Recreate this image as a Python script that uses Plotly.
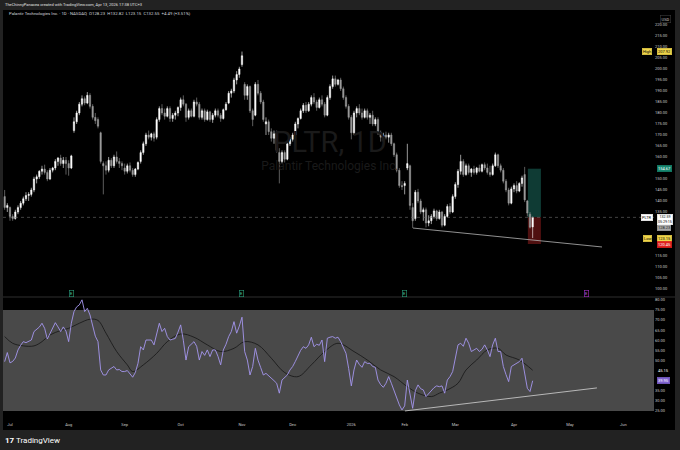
import pandas as pd
import plotly.graph_objects as go

W, H = 680, 450

# trading calendar (NASDAQ holidays in the window)
holidays = ['2025-07-04', '2025-09-01', '2025-11-27', '2025-12-25', '2026-01-01',
            '2026-01-19', '2026-02-16', '2026-04-03', '2026-05-25']
cal = pd.bdate_range('2025-06-27', '2026-06-30', freq='C', holidays=holidays)
month_names = ['Jul', 'Aug', 'Sep', 'Oct', 'Nov', 'Dec', '2026', 'Feb', 'Mar', 'Apr', 'May', 'Jun']

# daily OHLC, Jun 27 2025 -> Apr 13 2026
opens = [142, 137,
         137, 133, 132, 135, 137, 139, 141, 142.5, 143, 145, 150, 151, 153.5, 154.5, 153, 150, 154, 155, 158, 159.5, 157, 158.5,
         157, 155, 172, 176, 180, 184, 186.5, 184.5, 188, 183, 178, 177, 171, 157, 156, 154, 158.5, 156, 160, 158, 157,
         155, 153.5, 156, 154, 152, 154.5, 158, 162, 166, 170, 169, 170.5, 169, 177, 182, 180, 178.5, 182, 177.5, 179, 180,
         182.5, 186, 184, 178, 181, 178.5, 185, 184, 178, 181, 177, 180.5, 177, 179, 181, 179, 177.5, 181.5, 184.5, 189, 190, 195, 197.5,
         202, 193, 188, 192, 181, 179, 193, 189, 185, 175, 176, 171.5, 168.5, 171, 162, 158, 162, 159, 166,
         168, 170, 175, 177.5, 181, 183.5, 181, 184, 187, 185, 182.5, 186, 184, 179, 187, 192, 195.5, 193, 195, 191, 187, 183,
         178, 171, 180, 182, 180, 178, 181, 178, 179, 175, 177, 171, 169, 170, 169, 170, 166, 161, 154, 147,
         147, 155, 156, 137, 132, 144, 140, 135, 136, 130, 131, 133, 135.5, 132, 135, 129, 133, 137.5, 135,
         142, 147.5, 153.5, 158, 152, 156, 153, 154.5, 153, 155, 153.5, 156.5, 155, 153, 152, 156, 161, 156, 154, 149, 145, 139,
         145.5, 147, 144.5, 148, 152, 140, 134, 128.23]
highs = [145, 139,
         137.5, 134, 136, 138, 140, 142, 144, 144, 146, 151, 152, 154, 156, 156.5, 154, 155, 155.5, 159, 160, 161, 160, 160,
         158.5, 161, 178, 181, 185, 188, 187.5, 189.5, 189, 184, 180, 178, 171.5, 158, 158, 160, 159.5, 161, 162.5, 159.5, 158,
         157, 157, 157.5, 155, 155, 158, 163, 167, 171, 172, 171, 171.5, 178, 183, 184, 182, 183, 183, 180, 181, 183,
         187, 188, 184.5, 182, 182, 186, 187, 185, 182, 182, 181.5, 181, 180, 182, 182, 180, 182, 185, 190, 191, 196, 199, 201,
         207.92, 194, 193, 192.5, 182, 194, 195, 190, 186, 178, 177, 173, 172, 172, 164, 163, 163, 167, 169,
         171, 176, 178, 182, 184.5, 185, 185, 188, 189, 186, 187, 188, 185, 188, 193, 197, 197, 195.5, 196, 192, 188, 184,
         179, 181, 183, 184, 182, 182, 182, 180, 181, 178, 178, 172, 171, 171.5, 171, 171, 166.5, 162, 155, 149,
         149, 166, 156.5, 139, 145, 145.5, 141, 137, 137, 133.5, 134, 136.5, 136, 136, 135.5, 134, 138.5, 139, 143,
         148.5, 154.5, 161, 159, 157, 157, 155, 156, 155.5, 156.5, 157, 157.5, 157, 156, 157, 162, 161.5, 157, 155, 150, 146,
         146.5, 148, 149, 148.5, 151.5, 155.5, 140.5, 135, 132.82]
lows = [136, 135,
        131, 131, 131.5, 134, 136, 138, 140, 140, 142, 144, 148, 150, 152, 152, 149, 149.5, 153, 154, 156, 156, 155, 152,
        151.5, 154.5, 171, 175, 179, 183, 183.5, 184, 182, 177, 175, 173, 157, 143, 152, 153, 155, 155, 157, 155, 154,
        152, 152.5, 153, 151, 151, 154, 157, 161, 165, 168, 167.5, 167, 168, 176, 179, 177, 178, 176, 176, 177, 178.5,
        181, 183, 176, 177, 178, 178, 183, 177, 177, 176, 176.5, 176, 175.5, 178, 178, 176, 177, 181, 184, 187, 189, 193, 196,
        201, 186, 186, 180, 174, 178.5, 188, 184, 176, 170, 170, 167, 166, 162, 148, 157, 157.5, 158.5, 165,
        167, 169.5, 173, 177, 180, 180, 180.5, 183, 184, 181, 182, 183, 178, 178.5, 186, 191, 192, 192.5, 190, 186, 182, 177,
        168, 170, 178, 179, 177, 177.5, 177, 175, 174, 174, 170, 167, 167, 168, 166.5, 165, 160, 153, 146, 145,
        143, 154, 136, 127.7, 131, 139, 134, 131, 128, 128.5, 129.5, 132, 131, 131.5, 128, 128.5, 132.5, 134, 134.5,
        141, 146, 152, 151, 151.5, 152, 151, 152, 152, 153, 153, 154, 152, 151, 151.5, 155.5, 155, 153, 148, 144, 138,
        138.5, 144, 143.5, 144, 146.5, 139.5, 133, 127.5, 123.15]
closes = [137, 138,
          133, 132, 135, 137, 139, 141, 142.5, 143, 145, 150, 151, 153.5, 154.5, 153, 150, 154, 155, 158, 159.5, 157, 158.5, 157,
          155, 160.5, 176, 180, 184, 186.5, 184.5, 188, 183, 178, 176.5, 174, 158, 156, 154, 158.5, 156, 160, 158, 157, 156,
          153.5, 156, 154, 152, 154.5, 157.5, 162, 166, 170, 169, 170.5, 168.5, 177, 182, 180, 178.5, 182, 177.5, 179, 180, 182.5,
          186, 184, 178, 181, 178.5, 185, 184, 178, 181, 177, 180.5, 177, 179, 181, 179, 177.5, 181.5, 184, 189, 190, 195, 197.5, 200,
          206, 188, 192, 181, 177, 193, 189, 185, 177, 176, 171.5, 168.5, 170.5, 163, 158, 162, 159, 166, 168,
          170, 175, 177.5, 181, 183.5, 181, 184, 187, 185, 182.5, 186, 184, 179, 187, 192, 195.5, 193, 195, 191, 187, 183, 178,
          171, 180, 182, 180, 178, 181, 178, 179, 175, 177, 171, 169, 170, 169, 170, 166, 161, 154, 147, 146.5,
          148, 157, 138, 131, 144, 140, 135, 136, 130, 131, 133, 135.5, 132, 135, 129, 133, 137.5, 135, 142,
          147.5, 153.5, 158, 152, 156, 153, 154.5, 153, 155, 153.5, 156.5, 155, 153, 152, 156, 161, 156, 154, 149, 145, 139, 145.5,
          147, 144.5, 148, 150.5, 140.5, 134.5, 128.06, 132.55]

# RSI(14) per bar and its moving average (sampled along the drawn line)
rsi = [49.4, 53.9,
       48.8, 49.5, 51.2, 55.2, 57.5, 59.3, 58.8, 59.3, 60.1, 64.3, 65.5, 66.5, 68.4, 65.9, 60.6, 63.5, 65.9, 68.7, 66.6, 64.3, 66.6, 64.5,
       59.3, 68.4, 74.2, 76.5, 77.5, 80.0, 74.2, 75.8, 72.5, 66.7, 62.0, 59.3, 45.3, 42.8, 42.8, 45.3, 46.0, 47.0, 45.3, 45.5, 44.5,
       44.5, 45.0, 43.6, 41.7, 44.0, 48.6, 56.8, 55.2, 60.1, 60.1, 60.1, 57.7, 63.0, 68.4, 64.3, 65.9, 61.8, 60.1, 60.5, 60.9, 64.0,
       67.6, 60.0, 50.2, 56.8, 58.0, 59.3, 57.0, 50.2, 54.4, 52.5, 55.2, 51.9, 55.2, 55.2, 52.0, 47.8, 55.2, 58.0, 61.8, 64.3, 69.2, 63.5, 67.0,
       71.4, 54.4, 50.2, 42.8, 47.0, 56.0, 50.2, 46.5, 42.8, 43.6, 42.5, 41.2, 40.0, 38.7, 33.8, 40.3, 41.5, 42.8, 45.3,
       47.0, 49.5, 52.7, 55.0, 56.8, 56.0, 57.7, 61.5, 56.8, 58.0, 57.5, 60.1, 49.4, 61.0, 61.5, 61.8, 61.0, 61.5, 59.3, 56.0, 53.5, 46.0,
       37.4, 45.3, 50.2, 48.0, 46.6, 49.4, 48.5, 48.6, 47.0, 46.6, 40.3, 38.0, 36.7, 38.7, 42.0, 38.7, 35.0, 31.3, 28.0, 25.5,
       27.5, 40.3, 33.0, 26.3, 35.0, 37.9, 36.0, 35.4, 32.1, 33.5, 35.4, 36.5, 37.4, 37.0, 37.4, 33.8, 40.3, 42.0, 44.5,
       51.1, 57.7, 58.5, 57.0, 61.0, 58.5, 54.4, 55.0, 56.0, 54.4, 55.5, 57.7, 55.2, 51.9, 57.7, 61.0, 54.4, 54.4, 47.0, 43.0, 39.5, 47.0,
       47.8, 48.5, 49.4, 51.1, 42.8, 36.2, 34.6, 39.95]
ma_idx = [0, 3, 7, 11, 14, 17, 21, 24, 28, 32, 35, 38, 42, 46, 48, 52, 57, 61, 66, 71, 76, 81, 86, 90, 95,
          100, 105, 110, 115, 120, 125, 131, 136, 141, 146, 151, 155, 160, 163, 166, 170, 173, 177, 181, 185, 188, 193, 198]
ma_vals = [61.8, 58.5, 57.2, 57.2, 59.3, 62.6, 64.8, 65.9, 68.4, 70.4, 69.8, 63.5, 54.4, 47.8, 44.5, 47.8, 53.5, 59.3,
           63.1, 61.5, 57.7, 54.4, 56.0, 59.3, 57.7, 51.1, 44.0, 42.0, 47.8, 54.4, 58.5, 54.4, 50.2, 45.3, 42.0, 37.0,
           33.8, 32.1, 33.8, 35.4, 38.7, 45.3, 50.2, 55.2, 56.0, 52.7, 50.2, 45.15]

# chart drawings
price_trend_x = [153.1, 224.0]
price_trend_y = [127.7, 119.1]
rsi_trend_x = [150.1, 222.1]
rsi_trend_y = [25.0, 36.4]
position_x = [196.2, 201.1]
position_levels = [154.67, 132.59, 120.45]   # target, entry, stop
earnings_idx = [25, 89, 150]
next_earnings_idx = 218

# axis labels hidden behind price tags in the original are left out
price_ticks = [v for v in range(100, 221, 5) if v not in (120, 125, 130, 155)]
rsi_ticks = [v for v in range(25, 81, 5) if v not in (40, 45)]

idx = list(range(len(closes)))
month_idx = []
for i in range(1, len(cal)):
    if cal[i].month != cal[i - 1].month:
        month_idx.append(i)


def px(x):
    return x / W


def py(y):
    return 1 - y / H


GREY_TXT = '#c9c9c9'
FONT = 'Roboto'

fig = go.Figure()

# watermark (drawn first so candles sit on top)
fig.add_trace(go.Scatter(x=[122, 122], y=[165.5, 155.5], mode='text',
                         text=['PLTR, 1D', 'Palantir Technologies Inc.'],
                         textfont=dict(size=[29, 12], color='#1a1a1a', family=FONT),
                         hoverinfo='skip', showlegend=False, xaxis='x', yaxis='y'))

fig.add_trace(go.Candlestick(
    x=idx, open=opens, high=highs, low=lows, close=closes,
    increasing=dict(line=dict(color='#ffffff', width=0.6), fillcolor='#ffffff'),
    decreasing=dict(line=dict(color='#9a9a9a', width=0.6), fillcolor='#9a9a9a'),
    whiskerwidth=0, showlegend=False, hoverinfo='skip', xaxis='x', yaxis='y'))

fig.add_trace(go.Scatter(x=price_trend_x, y=price_trend_y, mode='lines',
                         line=dict(color='#b5b5b5', width=0.8),
                         hoverinfo='skip', showlegend=False, xaxis='x', yaxis='y'))

# RSI pane
fig.add_trace(go.Scatter(x=ma_idx, y=ma_vals, mode='lines', line=dict(color='#151515', width=0.8, shape='spline'),
                         hoverinfo='skip', showlegend=False, xaxis='x2', yaxis='y2'))
fig.add_trace(go.Scatter(x=idx, y=rsi, mode='lines', line=dict(color='#a596ee', width=0.9),
                         hoverinfo='skip', showlegend=False, xaxis='x2', yaxis='y2'))
fig.add_trace(go.Scatter(x=rsi_trend_x, y=rsi_trend_y, mode='lines', line=dict(color='#d4d4d4', width=0.8),
                         hoverinfo='skip', showlegend=False, xaxis='x2', yaxis='y2'))

shapes = [
    # black chart canvas over the grey frame
    dict(type='rect', xref='paper', yref='paper', x0=px(3), x1=px(675), y0=py(430), y1=py(10),
         fillcolor='#000000', line_width=0, layer='below'),
    # long position tool
    dict(type='rect', xref='x', yref='y', x0=position_x[0], x1=position_x[1],
         y0=position_levels[1], y1=position_levels[0], fillcolor='#0f3b34', line_width=0, layer='below'),
    dict(type='rect', xref='x', yref='y', x0=position_x[0], x1=position_x[1],
         y0=position_levels[2], y1=position_levels[1], fillcolor='#4f1010', line_width=0, layer='below'),
    # last price line
    dict(type='line', xref='x domain', yref='y', x0=0, x1=1, y0=closes[-1], y1=closes[-1],
         line=dict(color='#6e6e6e', width=0.6, dash='dot')),
    # RSI band
    dict(type='rect', xref='x2 domain', yref='y2', x0=0, x1=1, y0=25, y1=75,
         fillcolor='#494949', line_width=0, layer='below'),
    # pane separator
    dict(type='line', xref='paper', yref='paper', x0=px(3), x1=px(675), y0=py(297), y1=py(297),
         line=dict(color='#2e2e2e', width=1)),
]

ann = []


def tag(y, text, bg, fg, yref='y', x=657, border=None, size=4):
    ann.append(dict(x=px(x), y=y, xref='paper', yref=yref, text=text, showarrow=False,
                    xanchor='left', yanchor='middle', bgcolor=bg, bordercolor=border or bg,
                    borderwidth=0.5, borderpad=0.5, font=dict(size=size, color=fg, family=FONT)))


tag(position_levels[0], '154.67', '#16866f', '#ffffff')
tag(207.92, '207.92', '#efd54a', '#000000')
tag(207.92, 'High', '#efd54a', '#000000', x=642)
tag(128.0, '128.23', '#a8a8a8', '#222222')
tag(123.15, '123.15', '#efd54a', '#000000')
tag(123.15, 'Low', '#efd54a', '#000000', x=643)
tag(position_levels[2], '120.45', '#e0201f', '#ffffff')
tag(closes[-1] - 0.9, '132.59<br>05:29:15', '#ffffff', '#000000', size=3.6)
tag(closes[-1], 'PLTR', '#ffffff', '#000000', x=641)
tag(ma_vals[-1], '45.15', '#000000', '#ffffff', yref='y2')
tag(rsi[-1], '39.95', '#7e62cf', '#ffffff', yref='y2')

ann.append(dict(x=px(660), y=py(15), xref='paper', yref='paper', text='USD', showarrow=False,
                xanchor='left', bgcolor='#000000', bordercolor='#3a3a3a', borderwidth=0.6, borderpad=1,
                font=dict(size=4, color=GREY_TXT, family=FONT)))

# earnings markers
for e in earnings_idx:
    ann.append(dict(x=e, y=py(293), xref='x2', yref='paper', text='E', showarrow=False,
                    bgcolor='#000000', bordercolor='#2a9d78', borderwidth=0.6, borderpad=0.4,
                    font=dict(size=4, color='#58cfa2', family=FONT)))
ann.append(dict(x=next_earnings_idx, y=py(293), xref='x2', yref='paper', text='E', showarrow=False,
                bgcolor='#000000', bordercolor='#a52fc4', borderwidth=0.6, borderpad=0.4,
                font=dict(size=4, color='#c46ce0', family=FONT)))

# header strip texts
ann.append(dict(x=px(3), y=py(4.5), xref='paper', yref='paper', xanchor='left', yanchor='middle', showarrow=False,
                text='TheChinnyPanacea created with TradingView.com, Apr 13, 2026 17:38 UTC+3',
                font=dict(size=4, color='#e0e0e0', family=FONT)))
ann.append(dict(x=px(7), y=py(14), xref='paper', yref='paper', xanchor='left', yanchor='middle', showarrow=False,
                text='Palantir Technologies Inc. · 1D · NASDAQ  O128.23  H132.82  L123.15  C132.55  +4.49 (+3.51%)',
                font=dict(size=4.3, color='#d1d4dc', family=FONT)))
ann.append(dict(x=px(3), y=py(440), xref='paper', yref='paper', xanchor='left', yanchor='middle', showarrow=False,
                text='<b>17</b> TradingView', font=dict(size=8, color='#ffffff', family=FONT)))

x_range = [-0.62, 243.5]
fig.update_layout(
    width=W, height=H,
    margin=dict(l=0, r=0, t=0, b=0),
    paper_bgcolor='#222222', plot_bgcolor='#000000',
    font=dict(family=FONT, color=GREY_TXT),
    showlegend=False,
    shapes=shapes, annotations=ann,
    xaxis=dict(domain=[px(3), px(654)], anchor='y', range=x_range, showticklabels=False,
               showgrid=False, zeroline=False, rangeslider=dict(visible=False), fixedrange=True),
    yaxis=dict(domain=[py(297), py(10)], anchor='x', side='right', range=[96.36, 226.8],
               tickvals=price_ticks, ticktext=[f'{v:.2f}' for v in price_ticks],
               tickfont=dict(size=4, color=GREY_TXT), showgrid=False, zeroline=False, ticks=''),
    xaxis2=dict(domain=[px(3), px(654)], anchor='y2', range=x_range, matches='x',
                tickvals=month_idx[:len(month_names)], ticktext=month_names,
                tickfont=dict(size=4, color=GREY_TXT), ticklabelstandoff=5,
                showgrid=False, zeroline=False, ticks=''),
    yaxis2=dict(domain=[py(416), py(297)], anchor='x2', side='right', range=[22.5, 81.4],
                tickvals=rsi_ticks, ticktext=[f'{v:.2f}' for v in rsi_ticks],
                tickfont=dict(size=4, color=GREY_TXT), showgrid=False, zeroline=False, ticks=''),
)

# drop the default page margin so the 680x450 figure fills the window
fig.write_html("out.html", config={'displayModeBar': False},
               post_script="document.body.style.margin='0';"
                           "document.body.style.overflow='hidden';"
                           "document.body.style.background='#222222';")
